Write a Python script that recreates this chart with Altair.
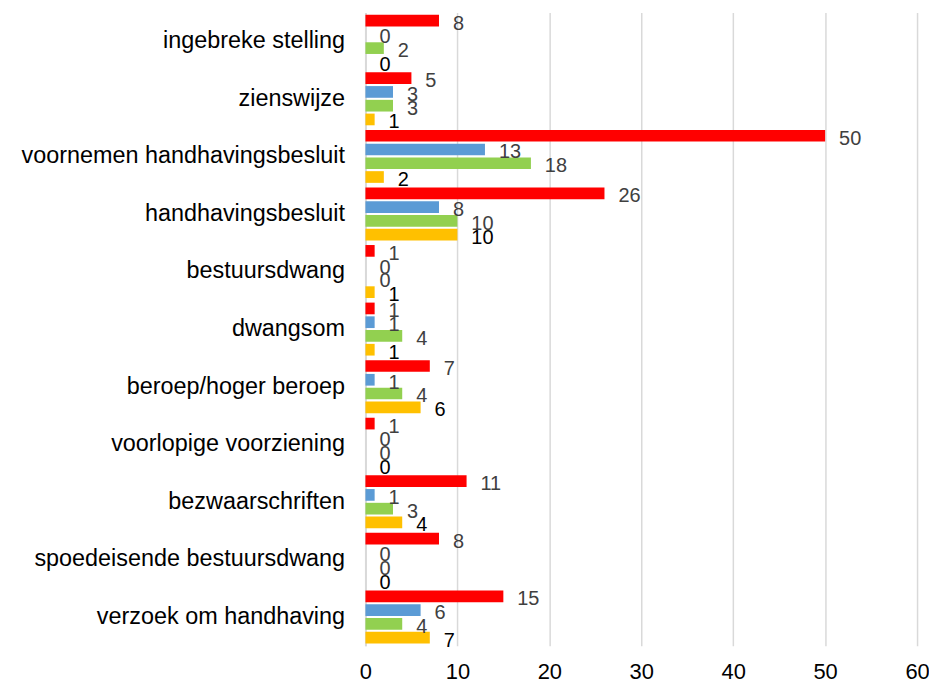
import altair as alt
import pandas as pd

categories = [
    "ingebreke stelling", "zienswijze", "voornemen handhavingsbesluit",
    "handhavingsbesluit", "bestuursdwang", "dwangsom", "beroep/hoger beroep",
    "voorlopige voorziening", "bezwaarschriften", "spoedeisende bestuursdwang",
    "verzoek om handhaving",
]
series = ["s1", "s2", "s3", "s4"]
s1 = [8, 5, 50, 26, 1, 1, 7, 1, 11, 8, 15]
s2 = [0, 3, 13, 8, 0, 1, 1, 0, 1, 0, 6]
s3 = [2, 3, 18, 10, 0, 4, 4, 0, 3, 0, 4]
s4 = [0, 1, 2, 10, 1, 1, 6, 0, 4, 0, 7]
bar_colors = ["#FF0000", "#5B9BD5", "#92D050", "#FFC000"]
label_colors = ["#404040", "#404040", "#404040", "#000000"]

rows = []
for name, vals in zip(series, [s1, s2, s3, s4]):
    for c, v in zip(categories, vals):
        rows.append({"cat": c, "series": name, "value": v})
df = pd.DataFrame(rows)

y = alt.Y("cat:N", sort=categories, title=None,
          scale=alt.Scale(paddingInner=0.08, paddingOuter=0.04),
          axis=alt.Axis(labelFontSize=23.5, labelColor="#000000", labelPadding=21,
                        ticks=False, domainColor="#d9d9d9", domainWidth=2,
                        labelFont="Liberation Sans", labelLimit=400))
yoff = alt.YOffset("series:N", sort=series, scale=alt.Scale(paddingInner=0.15))
x = alt.X("value:Q", title=None, scale=alt.Scale(domain=[0, 60]),
          axis=alt.Axis(values=[0, 10, 20, 30, 40, 50, 60], labelFontSize=22,
                        labelColor="#000000", labelFont="Liberation Sans",
                        labelFlush=False,
                        domain=False, ticks=False, labelPadding=16,
                        gridColor="#d9d9d9", gridWidth=1.5))

bars = alt.Chart(df).mark_bar().encode(
    y=y, yOffset=yoff, x=x,
    color=alt.Color("series:N", scale=alt.Scale(domain=series, range=bar_colors), legend=None),
)
labels = alt.Chart(df).mark_text(align="left", baseline="middle", dx=14, dy=3,
                                 fontSize=20, font="Liberation Sans").encode(
    y=y, yOffset=yoff, x=x, text="value:Q",
    color=alt.Color("series:N", scale=alt.Scale(domain=series, range=label_colors), legend=None),
)

chart = alt.layer(bars, labels).resolve_scale(color="independent").properties(
    width=554, height=636,
    autosize=alt.AutoSizeParams(type="none"),
    padding={"left": 359, "top": 3, "right": 12, "bottom": 40},
    background="white",
).configure_view(stroke=None)

chart.save("out.html", embed_options={"renderer": "svg", "actions": False})
